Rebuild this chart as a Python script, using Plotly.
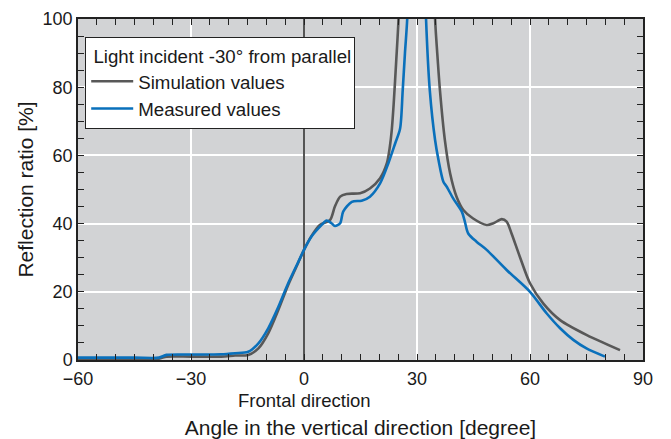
import plotly.graph_objects as go

# Simulation values (gray)
sim_x = [-60, -45, -38.5, -36.5, -30, -22, -18.3, -14.8, -12.1, -9.5, -6.8, -4.2, -1.5, 0, 2, 4.2, 6.9,
         8.2, 9.6, 11.3, 14.9, 17.5, 20.2, 22.0, 22.8, 23.3, 23.8, 24.5, 25.1, 25.8, 29.5,
         34.2, 34.8, 35.5, 36.1, 37.4, 38.8, 40.5, 42.3, 44.9, 48.5, 50.3, 52.5, 53.8, 55.1,
         57.3, 60, 63.5, 68, 75.1, 83.9]
sim_y = [0.4, 0.4, 0.4, 1.0, 1.0, 1.0, 1.3, 1.5, 3.4, 7.8, 14.7, 22.0, 28.6, 32.3, 36.4, 39.6, 41.0,
         45.0, 47.9, 48.7, 48.9, 50.3, 53.3, 57.7, 62.6, 67.4, 75, 88, 100, 125, 200,
         125, 100, 88, 79, 64.5, 54.7, 47.9, 44.0, 41.5, 39.6, 40.1, 41.3, 40.6, 37.1,
         30.3, 22.5, 16.6, 11.7, 7.3, 2.9]

# Measured values (blue)
meas_x = [-60, -45, -38.5, -36.5, -30, -22, -18.3, -14.8, -12.1, -9.5, -6.8, -4.2, -1.5, 0, 2, 4.7, 6.0,
          7.3, 8.2, 9.6, 10.4, 12.7, 15.3, 17.5, 20.2, 22.4, 24.2, 25.5, 26.2, 26.8, 27.4, 28.0, 30.2,
          31.8, 32.4, 33.4, 34.8, 35.7, 37.0, 37.9, 39.6, 41.9, 42.7, 43.6, 45.8, 48.5, 53.8,
          60, 64.4, 68, 71.5, 75, 79.9]
meas_y = [0.7, 0.7, 0.7, 1.5, 1.6, 1.7, 2.0, 2.4, 4.9, 9.3, 15.6, 22.5, 28.8, 32.3, 36.2, 39.6, 40.9,
          40.1, 39.3, 40.1, 43.5, 46.4, 46.7, 47.9, 51.8, 57.7, 63.5, 67.8, 79, 90, 100, 125, 200,
          125, 100, 79, 64.5, 58.7, 52.3, 50.8, 47.4, 43.5, 40.6, 37.1, 34.7, 32.3, 26.4,
          20.0, 13.7, 9.3, 5.9, 3.4, 1.0]

x_ticks = [-60, -30, 0, 30, 60, 90]
y_ticks = [0, 20, 40, 60, 80, 100]
x_range = [-60, 90]
y_range = [0, 100]

FONT = "Liberation Sans, Arial, Helvetica, sans-serif"
GRAY = "#585858"
BLUE = "#0a70bb"
TICK = "#222"

fig = go.Figure()
fig.add_trace(go.Scatter(x=sim_x, y=sim_y, mode="lines", name="Simulation values",
                         legendgroup="a",
                         line=dict(color=GRAY, width=2.6, shape="spline", smoothing=0.8)))
fig.add_trace(go.Scatter(x=meas_x, y=meas_y, mode="lines", name="Measured values",
                         legendgroup="b",
                         line=dict(color=BLUE, width=2.6, shape="spline", smoothing=0.8)))
# invisible trace to activate mirrored axes (top/right) with minor ticks
fig.add_trace(go.Scatter(x=[x_range[0]], y=[y_range[0]], xaxis="x2", yaxis="y2", mode="markers",
                         marker=dict(opacity=0), showlegend=False, hoverinfo="skip"))

minor_ax = dict(dtick=5, ticks="inside", ticklen=6, tickcolor=TICK, showgrid=False)

fig.update_layout(
    width=663, height=431,
    margin=dict(l=70, r=28, t=11, b=79),
    paper_bgcolor="white",
    plot_bgcolor="#d2d3d5",
    font=dict(family=FONT, size=18, color="#1a1a1a"),
    showlegend=True,
    legend=dict(
        x=0.0124, y=0.947, xanchor="left", yanchor="top",
        bgcolor="white", bordercolor=TICK, borderwidth=1.2,
        title=dict(text="\u00a0Light incident -30° from parallel", font=dict(size=18.7)),
        font=dict(size=18.7), tracegroupgap=0, itemwidth=42,
    ),
    xaxis=dict(
        range=x_range, tickvals=x_ticks, ticks="inside", ticklen=6, tickwidth=1,
        tickcolor=TICK, showline=True, linecolor=TICK, linewidth=1.5, mirror=True,
        showgrid=True, gridcolor="white", gridwidth=1.5, automargin=False,
        zeroline=True, zerolinecolor="#555", zerolinewidth=1.5,
        minor=minor_ax, ticklabelstandoff=2,
        tickfont=dict(size=18),
        title=dict(text="Angle in the vertical direction [degree]", font=dict(size=21), standoff=32),
    ),
    yaxis=dict(
        range=y_range, tickvals=y_ticks, ticks="inside", ticklen=6, tickwidth=1,
        tickcolor=TICK, showline=True, linecolor=TICK, linewidth=1.5, mirror=True,
        showgrid=True, gridcolor="white", gridwidth=1.5, zeroline=False, automargin=False,
        minor=minor_ax,
        tickfont=dict(size=18),
        title=dict(text="Reflection ratio [%]", font=dict(size=21), standoff=3),
    ),
    xaxis2=dict(
        range=x_range, tickvals=x_ticks, ticks="inside", ticklen=6, tickcolor=TICK,
        overlaying="x", side="top", showticklabels=False, showgrid=False, zeroline=False,
        minor=minor_ax, automargin=False,
    ),
    yaxis2=dict(
        range=y_range, tickvals=y_ticks, ticks="inside", ticklen=6, tickcolor=TICK,
        overlaying="y", side="right", showticklabels=False, showgrid=False, zeroline=False,
        minor=minor_ax, automargin=False,
    ),
    annotations=[dict(x=0, y=-0.118, xref="x", yref="paper", text="Frontal direction",
                      showarrow=False, font=dict(size=18.5), xanchor="center", yanchor="middle")],
)

fig.write_html("out.html")
